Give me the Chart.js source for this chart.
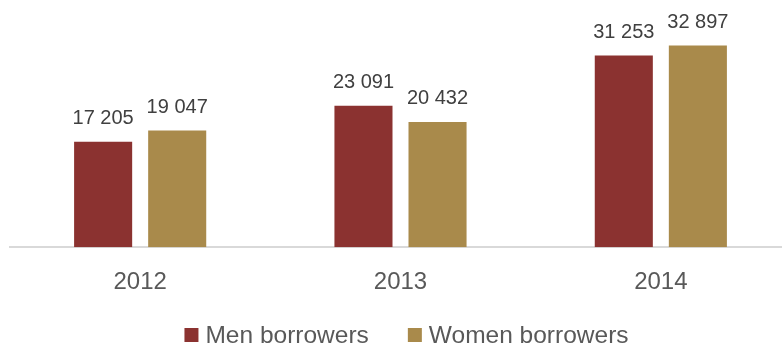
<!DOCTYPE html>
<html>
<head>
<meta charset="utf-8">
<script src="https://cdn.jsdelivr.net/npm/chart.js@4/dist/chart.umd.min.js"></script>
<style>
    html, body { margin: 0; padding: 0; background: #fff; overflow: hidden; }
    #wrap { width: 782px; height: 347px; overflow: hidden; }
</style>
</head>
<body>
<div id="wrap">
    <canvas id="borrowers-chart" width="800" height="347"></canvas>
</div>
<script>
const years = ['2012', '2013', '2014'];
const menBorrowers = [17205, 23091, 31253];
const womenBorrowers = [19047, 20432, 32897];
const seriesNames = ['Men borrowers', 'Women borrowers'];

const fontFamily = '"Liberation Sans", Arial, sans-serif';

function spaced(n) {
    return String(n).replace(/\B(?=(\d{3})+(?!\d))/g, ' ');
}

// numbers above each bar
const valueLabels = {
    id: 'valueLabels',
    afterDatasetsDraw(chart) {
        const ctx = chart.ctx;
        ctx.save();
        ctx.font = '20px ' + fontFamily;
        ctx.fillStyle = '#404040';
        ctx.textAlign = 'center';
        ctx.textBaseline = 'alphabetic';
        chart.data.datasets.forEach((ds, i) => {
            chart.getDatasetMeta(i).data.forEach((bar, j) => {
                ctx.fillText(spaced(ds.data[j]), bar.x, bar.y - 17.5);
            });
        });
        ctx.restore();
    }
};

// legend row at the bottom, drawn by hand to get the tight box/text spacing
const bottomLegend = {
    id: 'bottomLegend',
    afterDraw(chart) {
        const ctx = chart.ctx;
        const box = 14, gap = 7, itemGap = 39, y = 335;
        ctx.save();
        ctx.font = '24.5px ' + fontFamily;
        ctx.textBaseline = 'middle';
        const items = chart.data.datasets.map(ds => ({
            text: ds.label,
            color: ds.backgroundColor,
            w: ctx.measureText(ds.label).width
        }));
        const total = items.reduce((s, it) => s + box + gap + it.w, 0) + itemGap * (items.length - 1);
        let x = 406.5 - total / 2;
        items.forEach(it => {
            ctx.fillStyle = it.color;
            ctx.fillRect(x, y - box / 2, box, box);
            ctx.fillStyle = '#595959';
            ctx.fillText(it.text, x + box + gap, y + 1);
            x += box + gap + it.w + itemGap;
        });
        ctx.restore();
    }
};

const ctx = document.getElementById('borrowers-chart').getContext('2d');

new Chart(ctx, {
    type: 'bar',
    data: {
        labels: years,
        datasets: [
            {
                label: seriesNames[0],
                data: menBorrowers,
                backgroundColor: '#8b3230'
            },
            {
                label: seriesNames[1],
                data: womenBorrowers,
                backgroundColor: '#a98a4b'
            }
        ]
    },
    options: {
        responsive: false,
        animation: false,
        categoryPercentage: 0.569,
        barPercentage: 0.784,
        layout: {
            padding: { left: 10, right: 9, top: 2, bottom: 29 }
        },
        scales: {
            x: {
                grid: { display: false, drawTicks: false },
                border: { display: true, color: '#d9d9d9', width: 2 },
                ticks: {
                    color: '#595959',
                    padding: 21,
                    font: { family: fontFamily, size: 24 }
                }
            },
            y: {
                display: false,
                min: 0,
                max: 40000
            }
        },
        plugins: {
            legend: { display: false },
            tooltip: { enabled: false }
        }
    },
    plugins: [valueLabels, bottomLegend]
});
</script>
</body>
</html>
